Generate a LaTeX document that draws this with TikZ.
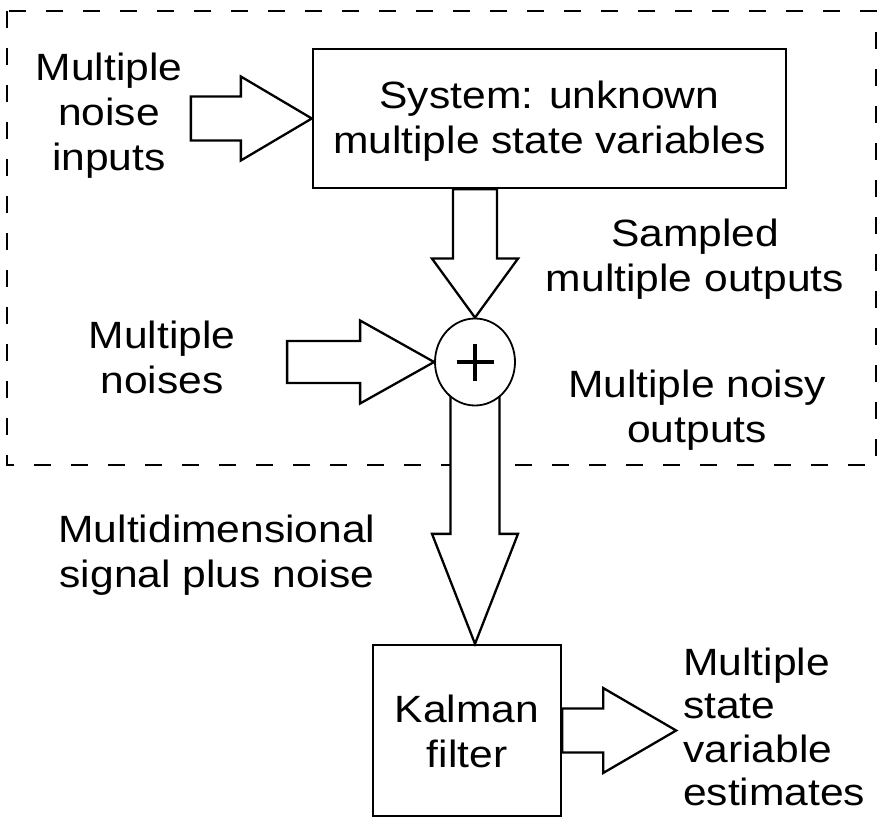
\documentclass[tikz,border=0pt]{standalone}
\usepackage{fontspec}
\setmainfont[FakeStretch=1.12]{Liberation Sans}
\usetikzlibrary{calc,shapes.geometric,backgrounds}
\newcommand{\mlc}[1]{\begin{tabular}[t]{@{}c@{}}#1\end{tabular}}
\newcommand{\mll}[1]{\begin{tabular}[t]{@{}l@{}}#1\end{tabular}}
\begin{document}
\begin{tikzpicture}[x=1pt,y=-1pt,line width=2.3pt,
  every node/.style={font=\fontsize{38}{45}\selectfont, inner sep=0pt},
  box/.style={draw, rectangle, line width=2.3pt},
  lab/.style={anchor=base},
  fat/.style={draw, line width=2.3pt, line join=miter, fill=white},
  frame/.style={dash pattern=on 17pt off 20pt, line width=2.3pt}]
\useasboundingbox (0,0) rectangle (878,818);

% nodes
\node[box, minimum width=473pt, minimum height=139pt, text height=36pt, text depth=55pt] (sys) at (549.5,118.5) {\mlc{System: unknown\\multiple state variables}};
\node[draw, ellipse, minimum width=80pt, minimum height=87pt, line width=1.8pt, fill=white] (sum) at (475,362) {};
\node[box, minimum width=188pt, minimum height=171pt, text height=36pt, text depth=53pt] (kf) at (467,730.5) {\mlc{Kalman\\filter}};

% plus sign
\draw[line width=4.5pt] ($(sum.center)+(-18.5,0)$) -- ++(37,0);
\draw[line width=4.5pt] ($(sum.center)+(0,-18.5)$) -- ++(0,37);

% dashed frame and arrow below the sum (background)
\coordinate (t2) at (sum.center |- kf.north);
\begin{scope}[on background layer]
  \draw[frame] (7,11) rectangle (876,465);
  \draw[fat] (t2) -- ++(-43,-110) -- ++(18.5,0) -- ($(sum.center)+(-24.5,0)$)
     -- ($(sum.center)+(24.5,0)$) -- ($(t2)+(24.5,-110)$) -- ++(18.5,0) -- cycle;
\end{scope}

% input arrow
\draw[fat] (sys.west) -- ++(-71,-42) -- ++(0,20) -- ++(-50,0) -- ++(0,44) -- ++(50,0) -- ++(0,20) -- cycle;
% noise arrow
\draw[fat] (sum.west) -- ++(-74,-41.5) -- ++(0,20.5) -- ++(-73,0) -- ++(0,42) -- ++(73,0) -- ++(0,20.5) -- cycle;
% system to sum
\coordinate (d1l) at ($(sum.north)+(-22,0)$);
\coordinate (d1r) at ($(sum.north)+(22,0)$);
\draw[fat] (sum.north) -- ++(-43,-59) -- ++(21,0) -- (d1l |- sys.south) -- (d1r |- sys.south)
   -- ($(d1r)+(0,-59)$) -- ++(21,0) -- cycle;
% output arrow
\draw[fat] (kf.east) -- ++(0,-22) -- ++(41,0) -- ++(0,-20.5) -- ++(73,42.5) -- ++(-73,42.5) -- ++(0,-20.5) -- ++(-41,0) -- cycle;

% labels
\node[lab] (inlab) at (109,81) {\mlc{Multiple\\noise\\inputs}};
\node[lab] (noiselab) at (162,348) {\mlc{Multiple\\noises}};
\node[lab] (samplab) at (695,247) {\mlc{Sampled\\multiple outputs}};
\node[lab] (noisylab) at (697,397) {\mlc{Multiple noisy\\outputs}};
\node[lab] (mdlab) at (217,542) {\mlc{Multidimensional\\signal plus noise}};
\node[anchor=base west] (estlab) at (682,675) {\fontsize{38}{43.5}\selectfont\mll{Multiple\\state\\variable\\estimates}};
\end{tikzpicture}
\end{document}
